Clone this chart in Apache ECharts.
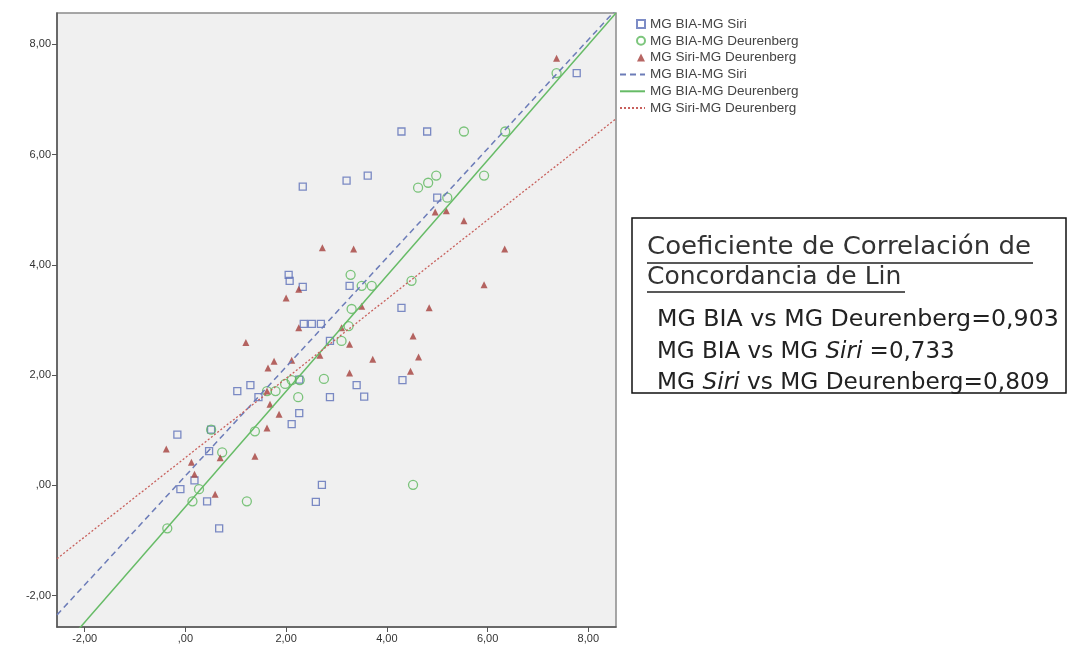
<!DOCTYPE html>
<html><head><meta charset="utf-8">
<script src="https://cdn.jsdelivr.net/npm/echarts@6/dist/echarts.min.js"></script>
<style>html,body{margin:0;padding:0;background:#fff}#c{width:1069px;height:653px}</style>
</head><body><div id="c"></div>
<script>
const xTicks = [-2, 0, 2, 4, 6, 8];
const yTicks = [-2, 0, 2, 4, 6, 8];
const seriesNames = ['MG BIA-MG Siri', 'MG BIA-MG Deurenberg', 'MG Siri-MG Deurenberg'];

// MG BIA - MG Siri (squares)
const biaSiri = [
  [4.29,6.42],[4.80,6.42],[7.77,7.48],[3.20,5.53],[3.62,5.62],[2.33,5.42],[5.00,5.22],
  [2.05,3.82],[2.07,3.71],[2.33,3.60],[3.26,3.62],[4.29,3.22],[2.35,2.93],[2.51,2.93],
  [2.69,2.93],[2.87,2.62],[1.03,1.71],[1.29,1.82],[1.45,1.60],[2.26,1.92],[2.87,1.60],
  [2.26,1.31],[2.11,1.11],[-0.16,0.92],[0.51,1.01],[0.47,0.62],[0.18,0.09],[-0.10,-0.07],
  [0.43,-0.29],[2.71,0.01],[2.59,-0.30],[0.67,-0.78],[4.31,1.91],[3.40,1.82],[3.55,1.61]
];
// MG BIA - MG Deurenberg (circles)
const biaDeur = [
  [7.37,7.48],[5.53,6.42],[6.35,6.42],[4.62,5.40],[4.82,5.49],[4.98,5.62],[5.93,5.62],
  [5.20,5.22],[3.28,3.82],[3.50,3.62],[3.70,3.62],[4.49,3.71],[3.30,3.20],[3.24,2.89],
  [3.10,2.62],[2.75,1.93],[2.27,1.91],[2.11,1.91],[1.98,1.84],[1.79,1.71],[2.24,1.60],
  [1.62,1.71],[1.38,0.98],[0.51,1.01],[0.73,0.60],[0.27,-0.07],[0.14,-0.29],[1.22,-0.29],
  [-0.36,-0.78],[4.52,0.01]
];
// MG Siri - MG Deurenberg (triangles)
const siriDeur = [
  [7.37,7.75],[4.96,4.96],[5.18,4.98],[5.53,4.80],[3.34,4.29],[2.72,4.31],[6.34,4.29],
  [5.93,3.64],[2.25,3.56],[2.00,3.40],[3.50,3.25],[4.84,3.22],[2.25,2.86],[3.10,2.86],
  [3.26,2.56],[4.52,2.71],[1.20,2.59],[2.67,2.36],[2.11,2.27],[1.76,2.25],[1.64,2.13],
  [3.72,2.29],[4.63,2.33],[4.47,2.07],[3.26,2.04],[1.62,1.71],[1.86,1.29],[1.62,1.04],
  [1.68,1.47],[1.38,0.53],[0.69,0.50],[-0.38,0.66],[0.12,0.42],[0.18,0.20],[0.59,-0.16]
];
// Fit lines (end points)
const fitBiaSiri = [[-2.55,-2.35],[8.55,8.63]];
const fitBiaDeur = [[-2.55,-3.06],[8.55,8.57]];
const fitSiriDeur = [[-2.55,-1.33],[8.55,6.65]];

const linTitle = ['Coeficiente de Correlación de', 'Concordancia de Lin'];
const linRows = [
  'MG BIA vs MG Deurenberg=0,903',
  'MG BIA vs MG {i|Siri} =0,733',
  'MG {i|Siri} vs MG Deurenberg=0,809'
];

const C_BLUE = '#5c6fb8', C_GREEN = '#5cb85c', C_RED = '#a5403c';
const fmt = v => v === 0 ? ',00' : v.toFixed(2).replace('.', ',');
const lineNames = seriesNames.map(n => n + ' ');

const chart = echarts.init(document.getElementById('c'));
const axisCommon = {
  type: 'value', splitLine: {show: false},
  axisLine: {show: true, onZero: false, lineStyle: {color: '#555', width: 1.5}},
  axisTick: {show: true, length: 5, lineStyle: {color: '#555'}},
  axisLabel: {color: '#333', fontSize: 11, fontFamily: 'Liberation Sans', formatter: fmt}
};
const bodyFont = 'DejaVu Sans';
const legendText = {color: '#444', fontSize: 13.5, fontFamily: 'Liberation Sans'};
chart.setOption({
  animation: false,
  backgroundColor: '#fff',
  grid: {left: 57, top: 13, right: 453, bottom: 26, show: true, backgroundColor: '#f0f0f0', borderColor: '#8a8a8a', borderWidth: 1.5},
  xAxis: Object.assign({}, axisCommon, {min: -2.55, max: 8.55,
    axisTick: Object.assign({}, axisCommon.axisTick, {customValues: xTicks}),
    axisLabel: Object.assign({}, axisCommon.axisLabel, {customValues: xTicks, margin: 6})}),
  yAxis: Object.assign({}, axisCommon, {min: -2.57, max: 8.57,
    axisTick: Object.assign({}, axisCommon.axisTick, {customValues: yTicks}),
    axisLabel: Object.assign({}, axisCommon.axisLabel, {customValues: yTicks, margin: 6})}),
  legend: [
    {orient: 'vertical', left: 631, top: 12, itemGap: 2.8, itemWidth: 8, itemHeight: 8,
      textStyle: legendText, data: seriesNames},
    {orient: 'vertical', left: 614, top: 62.5, itemGap: 2.8, itemWidth: 25, itemHeight: 8,
      itemStyle: {opacity: 0}, textStyle: legendText, data: lineNames}
  ],
  series: [
    {name: seriesNames[0], type: 'scatter', data: biaSiri, symbol: 'rect', symbolSize: 7,
      itemStyle: {color: 'transparent', borderColor: C_BLUE, borderWidth: 1.3}},
    {name: seriesNames[1], type: 'scatter', data: biaDeur, symbol: 'circle', symbolSize: 9,
      itemStyle: {color: 'transparent', borderColor: C_GREEN, borderWidth: 1.3}},
    {name: seriesNames[2], type: 'scatter', data: siriDeur, symbol: 'triangle', symbolSize: 7,
      itemStyle: {color: C_RED}},
    {name: lineNames[0], type: 'line', data: fitBiaSiri, symbol: 'none', clip: true,
      lineStyle: {color: '#6c7cb8', width: 1.5, type: [6, 4]}},
    {name: lineNames[1], type: 'line', data: fitBiaDeur, symbol: 'none', clip: true,
      lineStyle: {color: '#66bb66', width: 1.5, type: 'solid'}},
    {name: lineNames[2], type: 'line', data: fitSiriDeur, symbol: 'none', clip: true,
      lineStyle: {color: '#c8605c', width: 1.3, type: [2, 2]}}
  ],
  graphic: [
    {type: 'rect', shape: {x: 632, y: 218, width: 434, height: 175},
      style: {fill: '#fff', stroke: '#111', lineWidth: 1.5}},
    {type: 'text', x: 647, y: 247, scaleX: 1.04, style: {text: linTitle[0], font: '25px "' + bodyFont + '"', fill: '#333', verticalAlign: 'middle'}},
    {type: 'line', shape: {x1: 647, y1: 263, x2: 1033, y2: 263}, style: {stroke: '#222', lineWidth: 1.5}},
    {type: 'text', x: 647, y: 277, style: {text: linTitle[1], font: '25px "' + bodyFont + '"', fill: '#333', verticalAlign: 'middle'}},
    {type: 'line', shape: {x1: 647, y1: 292, x2: 905, y2: 292}, style: {stroke: '#222', lineWidth: 1.5}},
    {type: 'text', x: 657, y: 320, scaleX: 1.03, style: {text: linRows[0], font: '23px "' + bodyFont + '"', fill: '#222', verticalAlign: 'middle'}},
    {type: 'text', x: 657, y: 352, style: {text: linRows[1], font: '23px "' + bodyFont + '"', fill: '#222', verticalAlign: 'middle',
      rich: {i: {fontStyle: 'italic', fontSize: 23, fontFamily: bodyFont}}}},
    {type: 'text', x: 657, y: 383, scaleX: 1.01, style: {text: linRows[2], font: '23px "' + bodyFont + '"', fill: '#222', verticalAlign: 'middle',
      rich: {i: {fontStyle: 'italic', fontSize: 23, fontFamily: bodyFont}}}}
  ]
});
</script></body></html>
